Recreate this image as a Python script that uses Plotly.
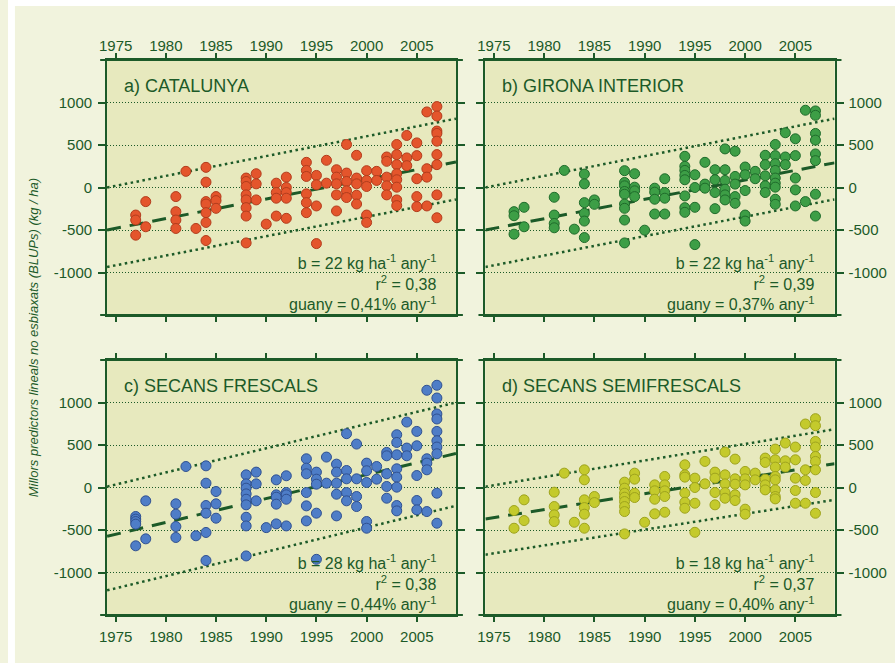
import plotly.graph_objects as go

W, H = 895, 663
DARK = '#1c5a28'
PAPER = '#f1f3dd'
PANEL = '#e7e9be'
FONT = 'Liberation Sans, Arial, sans-serif'

year_ticks = [1975, 1980, 1985, 1990, 1995, 2000, 2005]
blup_ticks = [-1000, -500, 0, 500, 1000]
blup_labels = ['-1000', '-500', '0', '500', '1000']
x_range = [1974.15, 2008.9]
y_range = [-1500, 1500]

panel_titles = ['a) CATALUNYA', 'b) GIRONA INTERIOR', 'c) SECANS FRESCALS', 'd) SECANS SEMIFRESCALS']
slopes = ['22', '22', '28', '18']
r2_values = ['0,38', '0,39', '0,38', '0,37']
gains = ['0,41', '0,37', '0,44', '0,40']

# BLUPs (kg/ha) per release year
catalunya = {
    1977: [-324, -383, -561], 1978: [-166, -462],
    1981: [-107, -284, -383, -482], 1982: [190], 1983: [-482],
    1984: [237, 63, -166, -194, -296, -411, -624], 1985: [-107, -154, -245],
    1988: [111, 71, 12, -87, -146, -237, -336, -652], 1989: [162, 43, -146],
    1990: [-431], 1991: [51, -59, -126, -336], 1992: [122, 0, -59, -126, -363],
    1994: [296, 201, 130, -75, -178, -296], 1995: [142, 32, -217, -660],
    1996: [320, 51], 1997: [209, 122, 43, -87, -276],
    1998: [506, 170, 71, -39, -118], 1999: [379, 111, 43, -91, -194],
    2000: [198, 83, 12, -324, -411], 2001: [190, 83],
    2002: [359, 308, 122, 20, -87],
    2003: [506, 387, 269, 162, 91, 4, -146, -213], 2004: [612, 348, 257],
    2005: [525, 375, 103, -107, -225], 2006: [889, 221, 122, -217],
    2007: [952, 841, 664, 636, 545, 387, 269, -87, -356],
}
girona = {
    1977: [-284, -332, -549], 1978: [-233, -462],
    1981: [-115, -324, -423, -474], 1982: [201], 1983: [-490],
    1984: [158, 43, -178, -304, -395, -589], 1985: [-146, -198],
    1988: [198, 59, 20, -47, -79, -194, -245, -383, -652], 1989: [162, 4, -39, -107],
    1990: [-502], 1991: [-8, -55, -138, -312], 1992: [103, -59, -126, -312],
    1994: [367, 249, 201, 142, 91, -99, -237, -292], 1995: [150, 0, -233, -672],
    1996: [296, 40, -8], 1997: [209, 91, -59, -249],
    1998: [454, 209, 83, -20, -87, -146], 1999: [427, 130, 40, -107, -186],
    2000: [241, 150, -36, -324, -395], 2001: [190, 103],
    2002: [379, 269, 138, 20, -59],
    2003: [506, 375, 280, 201, 111, 51, 4, -138, -198], 2004: [644, 359, 269],
    2005: [573, 375, 111, -28, -217], 2006: [909, -166],
    2007: [901, 849, 636, 557, 395, 316, -79, -336],
}
frescals = {
    1977: [-341, -372, -400, -431, -686], 1978: [-157, -604],
    1981: [-192, -314, -459, -588], 1982: [247], 1983: [-568],
    1984: [255, 51, -212, -302, -529, -859], 1985: [-47, -192, -361],
    1988: [149, 43, -8, -75, -138, -204, -350, -452, -805], 1989: [181, 43, -157],
    1990: [-472], 1991: [90, -86, -114, -196, -428], 1992: [138, -59, -86, -138, -452],
    1994: [338, 228, 161, -59, -216, -393], 1995: [181, 98, 39, -302, -845],
    1996: [358, 51], 1997: [275, 181, 51, -79, -334],
    1998: [633, 200, 102, -59, -157], 1999: [511, 102, -106, -224],
    2000: [287, 197, 59, -400, -479], 2001: [247, 98],
    2002: [413, 373, 161, 12, -126],
    2003: [621, 530, 385, 220, 122, 4, -212, -275], 2004: [770, 464, 373],
    2005: [660, 491, 141, -153, -263], 2006: [1144, 338, 287, 208, -283],
    2007: [1203, 1053, 865, 806, 660, 550, 476, 397, -67, -420],
}
semifrescals = {
    1977: [-271, -479], 1978: [-145, -389],
    1981: [-55, -224, -322, -401], 1982: [169], 1983: [-409],
    1984: [208, 90, -145, -236, -314, -479], 1985: [-106, -177],
    1988: [63, -8, -67, -114, -165, -224, -283, -546], 1989: [169, 98, -67, -118],
    1990: [-409], 1991: [31, -39, -138, -310], 1992: [130, 31, -39, -106, -291],
    1994: [267, 149, 122, -67, -173, -244], 1995: [110, 0, -185, -527],
    1996: [307, 43], 1997: [181, 110, -59, -204],
    1998: [417, 149, 43, -59, -126], 1999: [334, 102, 39, -86, -153],
    2000: [189, 102, 31, -255, -314], 2001: [169, 90],
    2002: [346, 295, 98, 31, -28],
    2003: [452, 326, 240, 130, 90, -28, -106, -134], 2004: [523, 314, 240],
    2005: [476, 326, 110, -35, -185], 2006: [747, 208, 83, -185],
    2007: [810, 727, 542, 476, 365, 307, 208, -59, -303],
}
panel_points = [catalunya, girona, frescals, semifrescals]

# regression line and the two dotted limits, value at left and right end of x_range
trend_ends = [[-500, 300], [-500, 290], [-575, 400], [-370, 280]]
upper_ends = [[0, 810], [0, 810], [10, 1000], [10, 685]]
lower_ends = [[-935, -141], [-935, -140], [-1210, -215], [-790, -145]]

fill_colors = ['#e4552c', '#3d9e46', '#4e7dc7', '#c4ca2c']
edge_colors = ['#b23c1c', '#1f6b2b', '#2f5090', '#9ea31d']

# panel boxes in pixels (left, right, top, bottom)
boxes = [(100, 452, 60, 315), (481.7, 834, 60, 315),
         (100, 452, 360, 615), (481.7, 834, 360, 615)]


def px_x(v):
    return v / W


def px_y(v):
    return 1 - v / H


fig = go.Figure()
annotations = []
shapes = [
    # white strip left/top of the scanned page
    dict(type='rect', xref='paper', yref='paper', x0=0, x1=px_x(7), y0=0, y1=1,
         fillcolor='white', line_width=0, layer='below'),
    dict(type='rect', xref='paper', yref='paper', x0=0, x1=1, y0=px_y(6), y1=1,
         fillcolor='white', line_width=0, layer='below'),
]

for i in range(4):
    n = '' if i == 0 else str(i + 1)
    xa, ya = 'x' + n, 'y' + n
    left, right, top, bottom = boxes[i]

    for ends, dash, width in [(upper_ends[i], '2.5px,3.5px', 2.5),
                              (lower_ends[i], '2.5px,3.5px', 2.5),
                              (trend_ends[i], '14px,9px', 3)]:
        fig.add_trace(go.Scatter(x=x_range, y=ends, mode='lines', xaxis=xa, yaxis=ya,
                                 line=dict(color=DARK, width=width, dash=dash),
                                 showlegend=False, hoverinfo='skip'))

    xs, ys = [], []
    for yr, vals in panel_points[i].items():
        xs += [yr] * len(vals)
        ys += vals
    fig.add_trace(go.Scatter(x=xs, y=ys, mode='markers', xaxis=xa, yaxis=ya,
                             marker=dict(size=10, color=fill_colors[i],
                                         line=dict(color=edge_colors[i], width=1)),
                             showlegend=False))

    fig.update_layout(**{
        'xaxis' + n: dict(
            domain=[px_x(left), px_x(right)], range=x_range, anchor=ya,
            tickvals=year_ticks, side='top' if i < 2 else 'bottom',
            showline=True, linecolor=DARK, linewidth=2, mirror='ticks',
            ticks='outside', ticklen=5, tickwidth=2, tickcolor=DARK,
            ticklabelstandoff=-4 if i < 2 else 2,
            showgrid=False, zeroline=False,
            tickfont=dict(size=15, color=DARK, family=FONT),
        ),
        'yaxis' + n: dict(
            domain=[px_y(bottom), px_y(top)], range=y_range, anchor=xa,
            tickvals=blup_ticks, ticktext=blup_labels,
            side='left' if i % 2 == 0 else 'right',
            showline=True, linecolor=DARK, linewidth=2, mirror='ticks',
            ticks='outside', ticklen=7, tickwidth=2, tickcolor=DARK,
            ticklabelstandoff=3 if i % 2 == 0 else 2,
            showgrid=True, gridcolor=DARK, gridwidth=1, griddash='1px,2px',
            zeroline=False,
            tickfont=dict(size=15, color=DARK, family=FONT),
        ),
    })

    # horizontal frame lines run a little past the box corners
    for yy in (top, bottom):
        shapes.append(dict(type='line', xref='paper', yref='paper',
                           x0=px_x(left - 7), x1=px_x(right + 7), y0=px_y(yy), y1=px_y(yy),
                           line=dict(color=DARK, width=2)))

    annotations.append(dict(x=px_x(left + 15), y=px_y(top + 26), xref='paper', yref='paper',
                            text=panel_titles[i], showarrow=False, xanchor='left',
                            yanchor='middle', font=dict(size=18, color=DARK, family=FONT)))
    stats = (f'b = {slopes[i]} kg ha<sup>-1</sup> any<sup>-1</sup><br>'
             f'r<sup>2</sup> = {r2_values[i]}<br>'
             f'guany = {gains[i]}% any<sup>-1</sup>')
    annotations.append(dict(x=px_x(right - 18.5), y=px_y(bottom - 33), xref='paper', yref='paper',
                            text=stats, showarrow=False, xanchor='right', yanchor='middle',
                            align='right', font=dict(size=16, color=DARK, family=FONT)))

annotations.append(dict(x=px_x(26), y=px_y(337.5), xref='paper', yref='paper',
                        text='<i>Millors predictors lineals no esbiaxats (BLUPs) (kg / ha)</i>',
                        showarrow=False, textangle=-90, xanchor='center', yanchor='middle',
                        font=dict(size=13, color=DARK, family=FONT)))

fig.update_layout(
    width=W, height=H,
    margin=dict(l=0, r=0, t=0, b=0),
    paper_bgcolor=PAPER,
    plot_bgcolor=PANEL,
    font=dict(family=FONT, color=DARK),
    annotations=annotations,
    shapes=shapes,
    showlegend=False,
)

# drop the default page margin so the 895x663 figure fills the window exactly
fig.write_html("out.html", config={'displayModeBar': False},
               post_script="document.body.style.margin='0';document.body.style.overflow='hidden';")
